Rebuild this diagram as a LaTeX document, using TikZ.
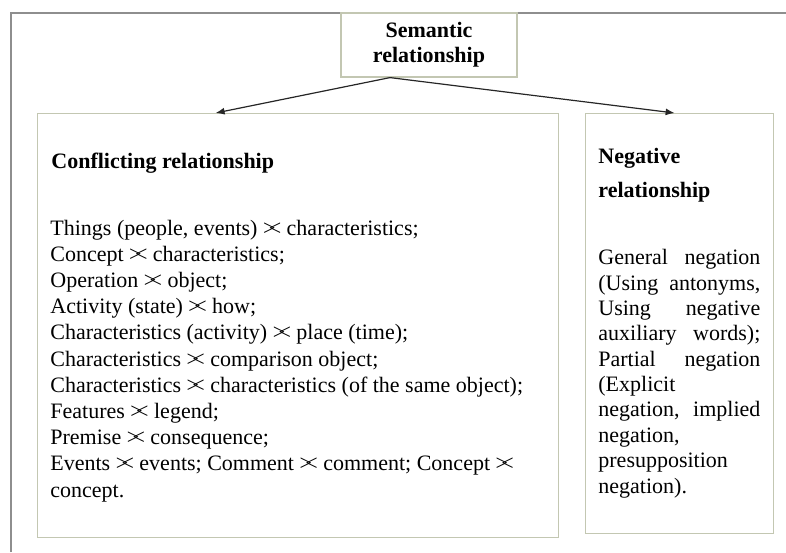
\documentclass[tikz,border=0pt]{standalone}
\usepackage{fontspec}
\setmainfont{Liberation Serif}
\usetikzlibrary{arrows.meta}

\definecolor{boxline}{HTML}{C3C7B2}
\definecolor{framegray}{HTML}{8E8E8E}

% simbolo di opposizione ><
\newcommand{\opp}{\mbox{>\kern-0.3em<}}
% riga giustificata della colonna destra
\newcommand{\jline}[1]{\makebox[81pt][s]{#1}}

\begin{document}
\begin{tikzpicture}[x=1pt, y=1pt,
        box/.style={draw=boxline, line width=0.6pt, inner sep=0pt},
        head/.style={font=\fontsize{11}{12.5}\selectfont\bfseries, inner sep=0pt},
        body/.style={font=\fontsize{11}{13.1}\selectfont, align=left, inner sep=0pt, anchor=base west},
        link/.style={-{Latex[length=4.5pt, width=3.5pt]}, line width=0.6pt, draw=black!85}
    ]
    \useasboundingbox (0,0) rectangle (393,-276);

    % --- cornice esterna ---
    \draw[framegray, line width=1pt] (5.5,-276) -- (5.5,-6.5) -- (393,-6.5);

    % --- nodo radice ---
    \node[box, head, align=center, minimum width=88pt, minimum height=32pt] (sem) at (214.5,-22.5) {Semantic\\relationship};
    \coordinate (fork) at ([xshift=-19.5pt]sem.south);

    % --- colonna sinistra: Conflicting relationship ---
    \node[box, anchor=north west, minimum width=260.5pt, minimum height=212pt] (conf) at (18.5,-56.5) {};
    \node[head, anchor=base west] (confhead) at (25.5,-84) {Conflicting relationship};
    % base = ultima riga
    \node[body] (conftext) at (25,-248.5) {
        Things (people, events) \opp{} characteristics;\\
        Concept \opp{} characteristics;\\
        Operation \opp{} object;\\
        Activity (state) \opp{} how;\\
        Characteristics (activity) \opp{} place (time);\\
        Characteristics \opp{} comparison object;\\
        Characteristics \opp{} characteristics (of the same object);\\
        Features \opp{} legend;\\
        Premise \opp{} consequence;\\
        Events \opp{} events; Comment \opp{} comment; Concept \opp{}\\
        concept.
    };

    % --- colonna destra: Negative relationship ---
    \node[box, anchor=north west, minimum width=94pt, minimum height=210pt] (neg) at (292.5,-56.5) {};
    \node[head, font=\fontsize{11}{17}\selectfont\bfseries, align=left, anchor=base west] (neghead) at (299,-98.5) {Negative\\relationship};
    \node[body, font=\fontsize{11}{12.67}\selectfont] (negtext) at (299,-246.5) {
        \jline{General negation}\\
        \jline{(Using antonyms,}\\
        \jline{Using negative}\\
        \jline{auxiliary words);}\\
        \jline{Partial negation}\\
        (Explicit\\
        \jline{negation, implied}\\
        negation,\\
        presupposition\\
        negation).
    };

    % --- frecce ---
    \draw[link] (fork) -- ([xshift=-41.25pt]conf.north);
    \draw[link] (fork) -- ([xshift=-2.5pt]neg.north);

\end{tikzpicture}
\end{document}
